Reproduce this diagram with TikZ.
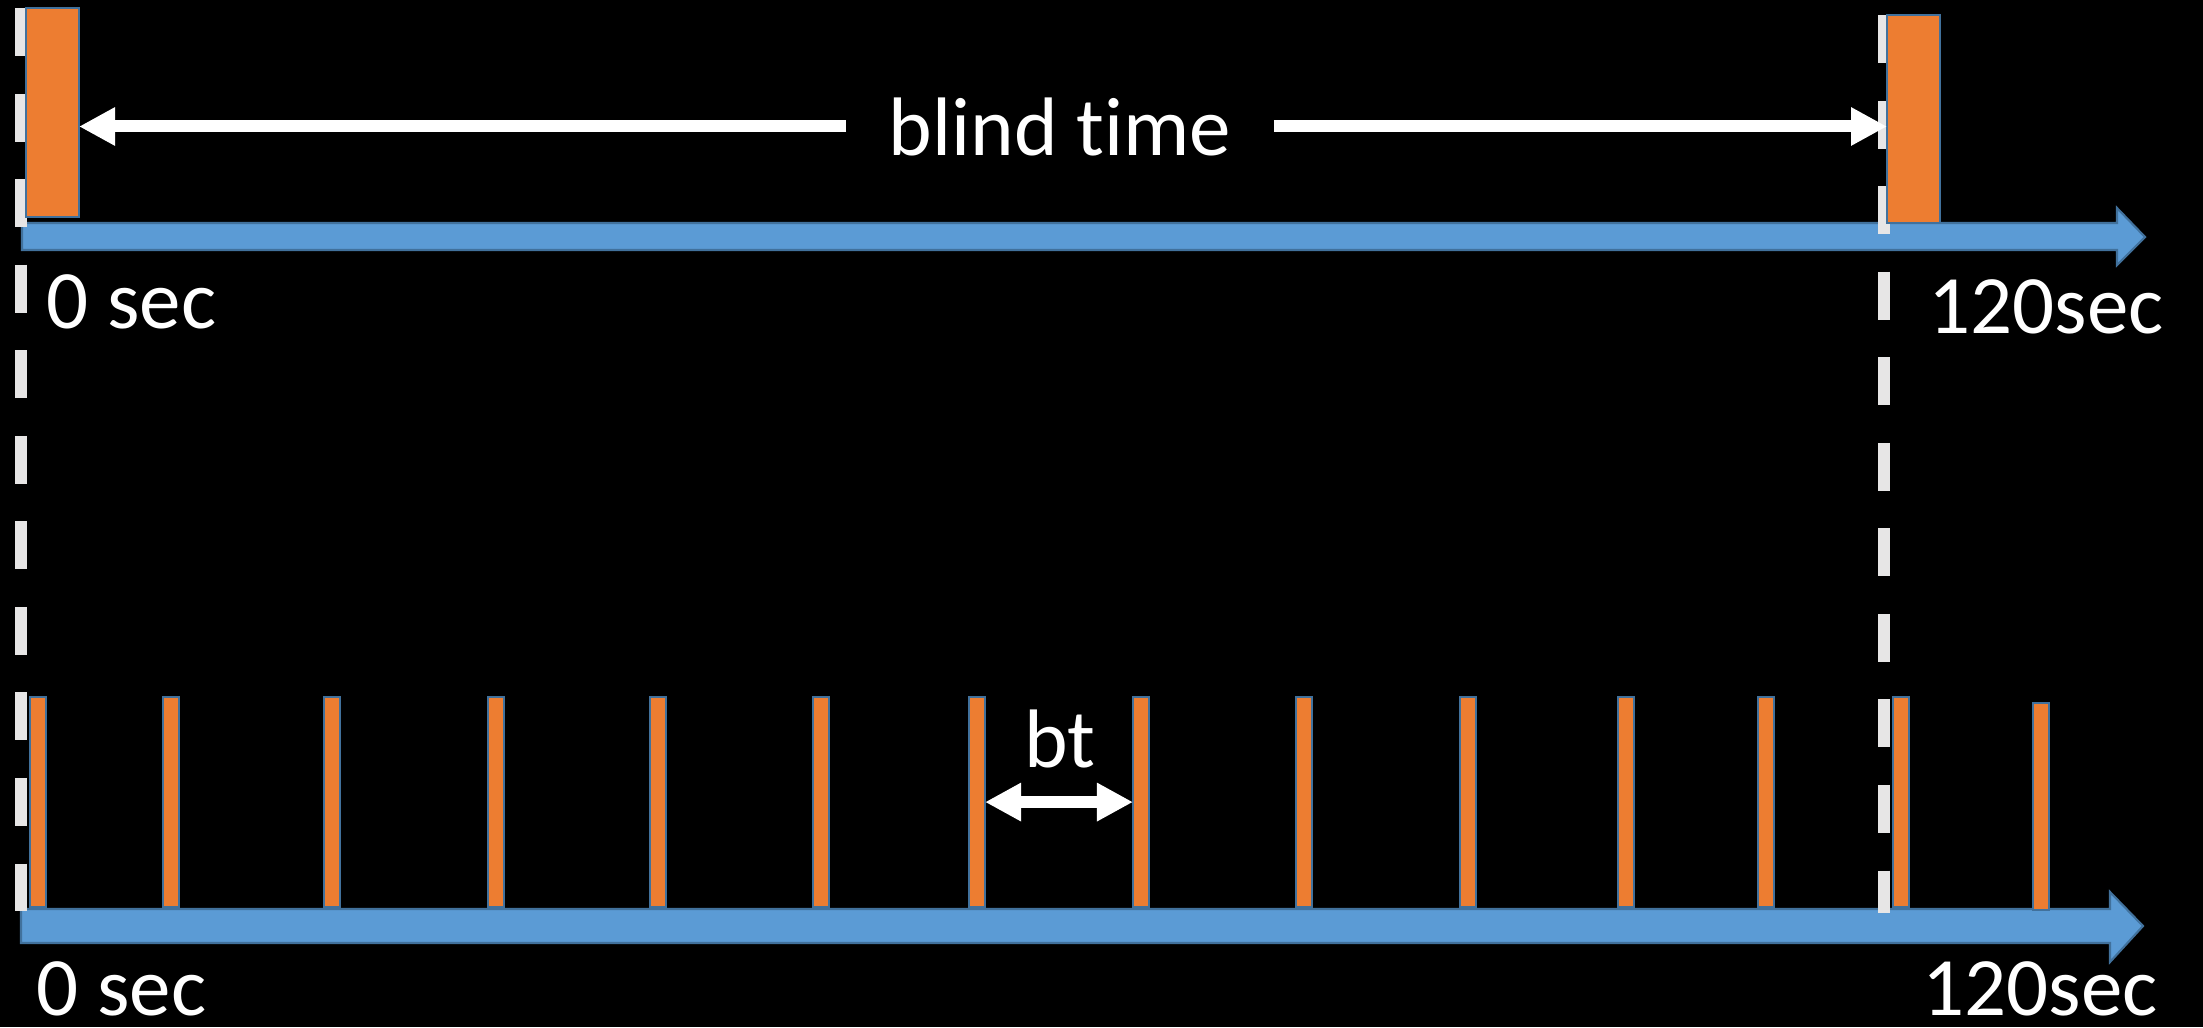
\documentclass[tikz,border=0pt]{standalone}
\usepackage{fontspec}
\setmainfont{Carlito}[Ligatures=NoCommon]
\usepackage{tikz}
\usetikzlibrary{arrows.meta, calc}
\definecolor{pulse}{RGB}{237, 125, 49}
\definecolor{axisblue}{RGB}{91, 155, 213}
\definecolor{edge}{RGB}{65, 113, 156}
\definecolor{guide}{RGB}{231, 230, 230}
\tikzset{headtip/.tip={Triangle[length=0.36cm, width=0.36cm]}}

\begin{document}
\begin{tikzpicture}[x=0.01cm, y=-0.01cm,
  pulsebar/.style={draw=edge, fill=pulse, line width=0.6pt, inner sep=0, outer sep=0, anchor=north west},
  timeline/.style={draw=edge, fill=axisblue, line width=0.6pt},
  guideline/.style={guide, line width=0.12cm, dash pattern=on 0.48cm off 0.375cm},
  spanarrow/.style={white, line width=0.12cm, -headtip},
  lbl/.style={white, inner sep=0, font=\fontsize{23.6}{28}\selectfont}]

  \fill[black] (0, 0) rectangle (2203, 1027);
  \useasboundingbox (0, 0) rectangle (2203, 1027);

  % the two time axes
  \draw[timeline] (22, 223) -- (2117, 223) -- (2117, 208) -- (2145, 237)
    -- (2117, 265) -- (2117, 250) -- (22, 250) -- cycle;
  \draw[timeline] (21, 909) -- (2110, 909) -- (2110, 892) -- (2143, 926)
    -- (2110, 962) -- (2110, 943) -- (21, 943) -- cycle;

  \draw[guideline] (21, 8) -- (21, 911);
  \draw[guideline] (1884, 15) -- (1884, 913);

  % one long exposure
  \node (blk0) [pulsebar, minimum width=0.53cm, minimum height=2.09cm] at (26, 8) {};
  \node (blk1) [pulsebar, minimum width=0.53cm, minimum height=2.08cm] at (1887, 15) {};

  % many short exposures
  \foreach \x [count=\i] in {30, 163, 324, 488, 650, 813, 969, 1133, 1296, 1460, 1618, 1758, 1893} {
    \node (bar\i) [pulsebar, minimum width=0.16cm, minimum height=2.1cm] at (\x, 697) {};
  }
  \node (bar14) [pulsebar, minimum width=0.16cm, minimum height=2.07cm] at (2033, 703) {};

  \node (blind) [lbl, inner xsep=0.42cm, anchor=base] at (1060, 155) {blind time};
  \draw[spanarrow] (blind.west) -- (blind.west -| blk0.east);
  \draw[spanarrow] (blind.east) -- (blind.east -| blk1.west);

  \node (btlbl) [lbl, anchor=base] at (1060, 767) {bt};
  \draw[spanarrow, headtip-headtip] (bar7.east) -- (bar8.west);

  \node (start0) [lbl, anchor=base west] at (46, 328) {0 sec};
  \node (end0) [lbl, anchor=base west] at (1928, 333) {120sec};
  \node (start1) [lbl, anchor=base west] at (36, 1015) {0 sec};
  \node (end1) [lbl, anchor=base west] at (1922, 1015) {120sec};
\end{tikzpicture}
\end{document}
